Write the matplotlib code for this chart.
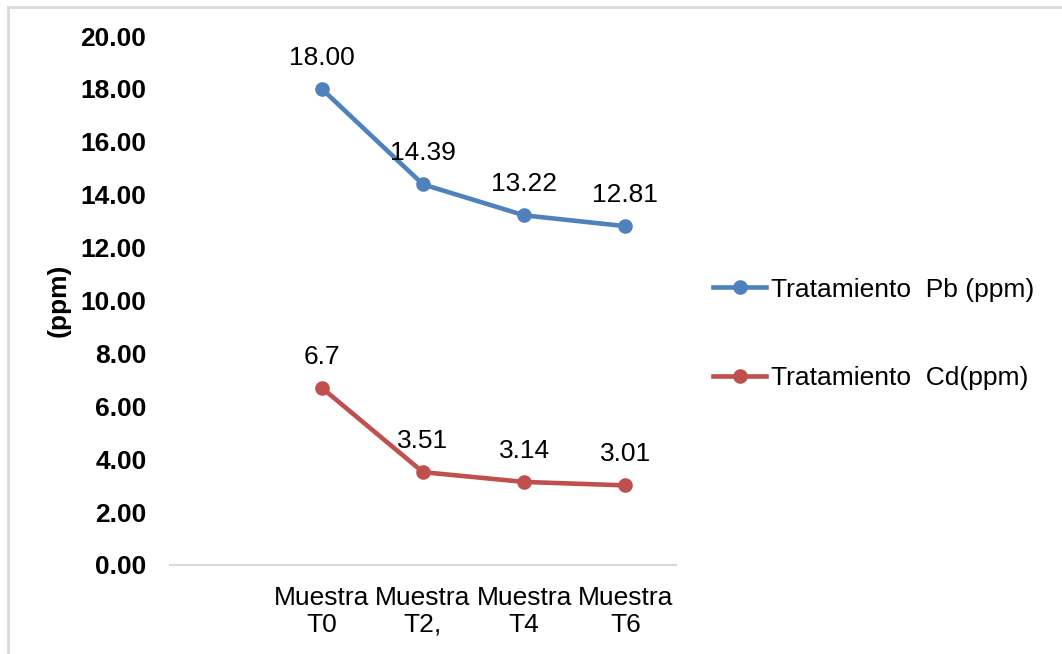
import numpy as np
import matplotlib.pyplot as plt

plt.rcParams['font.family'] = ['Liberation Sans', 'DejaVu Sans']

# Data (first category is empty in the original)
categories = ['', 'Muestra\nT0', 'Muestra\nT2,', 'Muestra\nT4', 'Muestra\nT6']
pb_values = [np.nan, 18.00, 14.39, 13.22, 12.81]
cd_values = [np.nan, 6.7, 3.51, 3.14, 3.01]
pb_labels = ['', '18.00', '14.39', '13.22', '12.81']
cd_labels = ['', '6.7', '3.51', '3.14', '3.01']
yticks = [0, 2, 4, 6, 8, 10, 12, 14, 16, 18, 20]

blue = '#4F81BD'
red = '#C0504D'
fs = 19

fig = plt.figure(figsize=(10.62, 6.54), dpi=100)
ax = fig.add_axes([170 / 1062, 1 - 565 / 654, 506 / 1062, 529 / 654])

x = np.arange(len(categories))
ax.plot(x, pb_values, color=blue, lw=3.3, marker='o', ms=9.5,
        label='Tratamiento  Pb (ppm)')
ax.plot(x, cd_values, color=red, lw=3.3, marker='o', ms=9.5,
        label='Tratamiento  Cd(ppm)')

for xi, v, t in zip(x, pb_values, pb_labels):
    if t:
        ax.annotate(t, (xi, v), xytext=(0, 31), textcoords='offset pixels',
                    ha='center', va='center', fontsize=fs)
for xi, v, t in zip(x, cd_values, cd_labels):
    if t:
        ax.annotate(t, (xi, v), xytext=(0, 31), textcoords='offset pixels',
                    ha='center', va='center', fontsize=fs)

ax.set_xlim(-0.5, len(categories) - 0.5)
ax.set_ylim(0, 20)
ax.set_xticks(x)
ax.set_xticklabels(categories, fontsize=fs, linespacing=1.15)
ax.set_yticks(yticks)
ax.set_yticklabels([f'{v:.2f}' for v in yticks], fontsize=fs, fontweight='bold')
ax.tick_params(axis='y', length=0, pad=17)
ax.tick_params(axis='x', length=0, pad=15)

for s in ['left', 'top', 'right']:
    ax.spines[s].set_visible(False)
ax.spines['bottom'].set_color('#D9D9D9')
ax.spines['bottom'].set_linewidth(1.5)

ax.set_ylabel('(ppm)', fontsize=fs, fontweight='bold', labelpad=7)

fig.legend(loc='center left', bbox_to_anchor=(700 / 1062, 1 - 334 / 654),
           frameon=False, fontsize=fs, handlelength=2.0, handletextpad=0.2,
           labelspacing=2.45, borderpad=0)

# light gray border along top and left edges
fig.add_artist(plt.Line2D([7.5 / 1062, 1], [1 - 6.5 / 654] * 2,
                          color='#D9D9D9', lw=2))
fig.add_artist(plt.Line2D([7.5 / 1062] * 2, [0, 1 - 6.5 / 654],
                          color='#D9D9D9', lw=2))

plt.savefig('out.png', dpi=100)
